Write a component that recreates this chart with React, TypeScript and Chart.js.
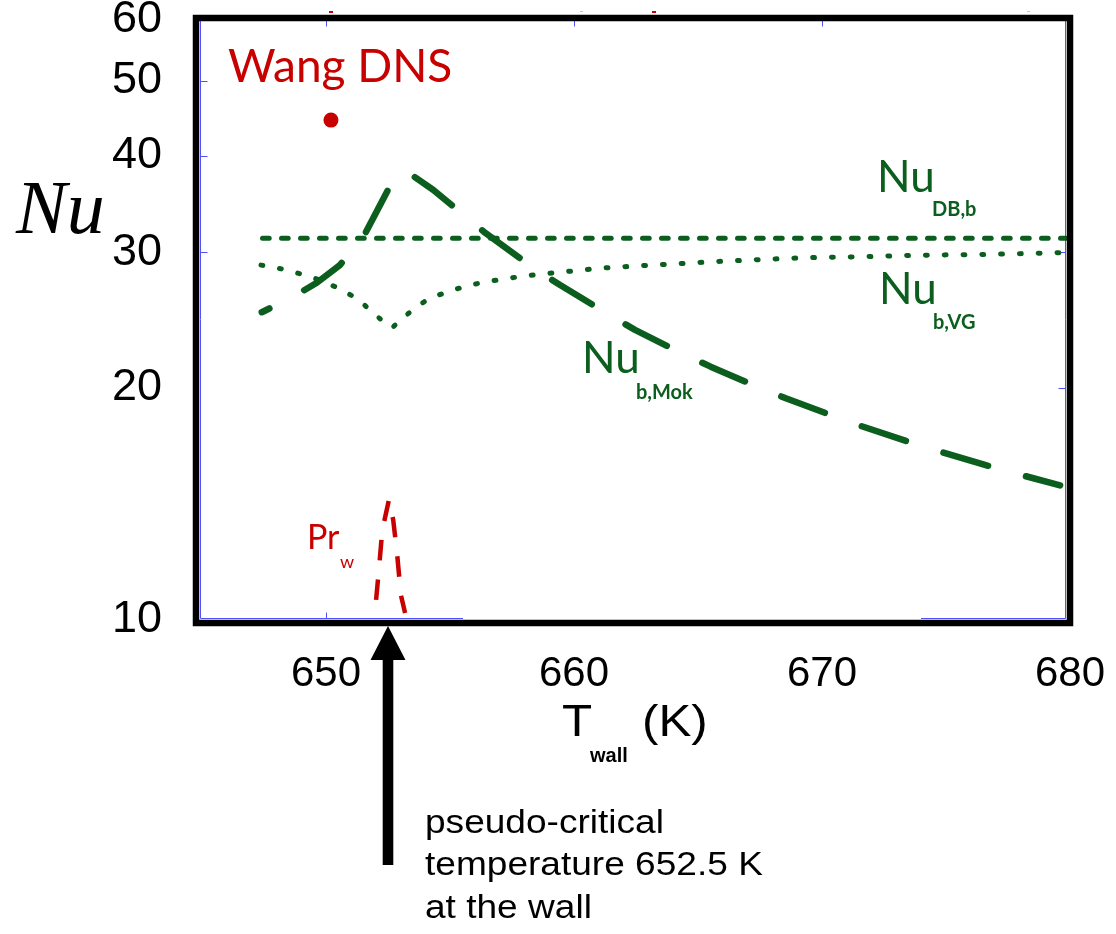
import { useEffect, useRef } from 'react';
import { Chart, registerables } from 'chart.js';

Chart.register(...registerables);

// Axis ticks
const xTicks = [650, 660, 670, 680];
const yTicks = [10, 20, 30, 40, 50, 60];

// Nu_DB,b (Dittus-Boelter, bulk properties) vs wall temperature (K)
const dbT = [647.44, 679.84];
const dbNu = [31.26, 31.26];

// Nu_b,VG
const vgT = [647.38, 648.23, 648.99, 649.76, 650.48, 651.29, 651.98, 652.66, 653.39, 654.11, 654.88, 655.65, 656.41, 657.18, 657.94, 658.71, 659.52, 660.97, 662.5, 663.99, 665.55, 667.1, 668.62, 670.12, 671.65, 673.15, 674.68, 676.21, 677.78, 679.84];
const vgNu = [28.86, 28.52, 28.1, 27.6, 26.95, 26.08, 24.87, 23.92, 25.09, 26.08, 26.63, 27.11, 27.44, 27.68, 27.93, 28.1, 28.27, 28.58, 28.78, 28.95, 29.15, 29.3, 29.45, 29.54, 29.59, 29.68, 29.75, 29.77, 29.85, 29.97];

// Nu_b,Mok
const mokT = [647.41, 648.68, 649.63, 650.56, 651.5, 652.51, 653.02, 653.46, 654.33, 655.27, 656.41, 658.29, 659.44, 661.32, 662.46, 664.34, 665.51, 667.43, 668.54, 670.46, 671.57, 673.48, 674.63, 676.57, 677.67, 679.6];
const mokNu = [25.07, 26.26, 27.38, 28.86, 31.35, 36.19, 38.22, 37.76, 36.11, 34.1, 31.79, 28.72, 27.19, 24.99, 23.78, 22.18, 21.31, 20.04, 19.39, 18.39, 17.85, 17.03, 16.58, 15.89, 15.53, 14.95];

// Wall Prandtl number
const prT = [652.02, 652.15, 652.27, 652.54, 652.71, 652.86, 653.02, 653.19];
const prVal = [10.62, 11.79, 13.08, 14.33, 13.48, 12.25, 10.77, 10.21];

// Wang DNS result
const dnsT = [650.2];
const dnsNu = [44.5];

// Pseudo-critical temperature at the wall (K)
const pseudoCriticalT = 652.5;

const GREEN = '#0b5e1e';
const RED = '#c80000';
const BLUE = '#5050ff';
const SANS = "'Liberation Sans', Arial, sans-serif";

const pts = (xs: number[], ys: number[]) => xs.map((x, i) => ({ x, y: ys[i] }));

function label(ctx: CanvasRenderingContext2D, s: string, x: number, y: number, font: string, color: string, sx = 1) {
  ctx.save();
  ctx.font = font;
  ctx.fillStyle = color;
  ctx.textAlign = 'left';
  ctx.textBaseline = 'alphabetic';
  ctx.translate(x, y);
  ctx.scale(sx, 1);
  ctx.fillText(s, 0, 0);
  ctx.restore();
}

const decorations = {
  id: 'decorations',
  beforeDatasetsDraw(chart: any) {
    const { ctx, chartArea: a, scales } = chart;
    const xs = scales.x;
    const ys = scales.y;
    const L = a.left - 1.5;
    const R = a.right - 4.5;
    const T = a.top + 0.5;
    const B = a.bottom - 1.5;
    ctx.save();
    ctx.strokeStyle = BLUE;
    ctx.lineWidth = 1;
    ctx.beginPath();
    ctx.moveTo(L, B);
    ctx.lineTo(L, T);
    ctx.lineTo(R, T);
    ctx.lineTo(R, B);
    ctx.moveTo(L, B);
    ctx.lineTo(463, B);
    ctx.moveTo(921, B);
    ctx.lineTo(R, B);
    for (const v of [30, 40, 50]) {
      const py = Math.round(ys.getPixelForValue(v)) + 0.5;
      ctx.moveTo(L, py);
      ctx.lineTo(L + 7, py);
    }
    for (const v of [20, 30]) {
      const py = Math.round(ys.getPixelForValue(v)) + 0.5;
      ctx.moveTo(R, py);
      ctx.lineTo(R - 7, py);
    }
    for (const v of [650, 660, 670]) {
      const px = Math.round(xs.getPixelForValue(v)) + 0.5;
      ctx.moveTo(px, T);
      ctx.lineTo(px, T + 6);
    }
    const p650 = Math.round(xs.getPixelForValue(650)) + 0.5;
    ctx.moveTo(p650, B);
    ctx.lineTo(p650, B - 6);
    ctx.stroke();
    ctx.restore();
  },
  afterDraw(chart: any) {
    const { ctx, chartArea: a, scales } = chart;
    const xs = scales.x;
    ctx.save();

    // plot frame
    ctx.strokeStyle = '#000';
    ctx.lineWidth = 6.5;
    ctx.lineJoin = 'miter';
    const fl = a.left - 6;
    const ft = a.top - 2;
    ctx.strokeRect(fl, ft, a.right - fl, a.bottom + 3 - ft);

    // small marks above the frame
    ctx.fillStyle = RED;
    ctx.fillRect(329, 11, 4, 2);
    ctx.fillRect(652, 11, 4, 2);
    ctx.fillStyle = '#f0b0b0';
    ctx.fillRect(580, 11, 3, 1);
    ctx.fillRect(1027, 11, 3, 1);

    // arrow pointing at the pseudo-critical temperature
    const ax = xs.getPixelForValue(pseudoCriticalT);
    const tipY = a.bottom + 6;
    ctx.fillStyle = '#000';
    ctx.beginPath();
    ctx.moveTo(ax, tipY);
    ctx.lineTo(ax + 17.5, tipY + 34);
    ctx.lineTo(ax + 5.3, tipY + 34);
    ctx.lineTo(ax + 5.3, 865);
    ctx.lineTo(ax - 5.3, 865);
    ctx.lineTo(ax - 5.3, tipY + 34);
    ctx.lineTo(ax - 17.5, tipY + 34);
    ctx.closePath();
    ctx.fill();

    // axis titles
    label(ctx, 'Nu', 16, 233, "italic 76px 'Liberation Serif', 'Times New Roman', serif", '#000');
    label(ctx, 'T', 562, 736, `44px ${SANS}`, '#000', 1.12);
    label(ctx, 'wall', 590, 762, `bold 20px ${SANS}`, '#000');
    label(ctx, '(K)', 642, 736, `44px ${SANS}`, '#000', 1.12);

    // series labels
    label(ctx, 'Wang DNS', 228, 82, '46px Lato, sans-serif', RED);
    label(ctx, 'Nu', 877, 192, '44px Lato, sans-serif', GREEN);
    label(ctx, 'DB,b', 932, 216, 'bold 20px Lato, sans-serif', GREEN);
    label(ctx, 'Nu', 879, 304, '44px Lato, sans-serif', GREEN);
    label(ctx, 'b,VG', 933, 329, 'bold 20px Lato, sans-serif', GREEN);
    label(ctx, 'Nu', 582, 373, '44px Lato, sans-serif', GREEN);
    label(ctx, 'b,Mok', 636, 399, 'bold 20px Lato, sans-serif', GREEN);
    label(ctx, 'Pr', 307, 549, '34px Lato, sans-serif', RED);
    label(ctx, 'w', 340, 568, '18px Lato, sans-serif', RED);

    // annotation
    const note = ['pseudo-critical', `temperature ${pseudoCriticalT} K`, 'at the wall'];
    const baselines = [833, 875, 918];
    note.forEach((s, i) => label(ctx, s, 425, baselines[i], `34px ${SANS}`, '#000', 1.09));

    ctx.restore();
  },
};

export default function App() {
  const ref = useRef<HTMLCanvasElement>(null);

  useEffect(() => {
    const zeroPad = (s: any) => {
      s.paddingLeft = 0;
      s.paddingRight = 0;
      s.paddingTop = 0;
      s.paddingBottom = 0;
    };
    const lineBase = {
      showLine: true,
      pointRadius: 0,
      pointHoverRadius: 0,
      borderJoinStyle: 'round' as const,
      tension: 0,
    };
    const chart = new Chart(ref.current!, {
      type: 'scatter',
      data: {
        datasets: [
          {
            ...lineBase,
            label: 'Nu_DB,b',
            data: pts(dbT, dbNu),
            borderColor: GREEN,
            borderWidth: 5,
            borderDash: [6.7, 12.3],
            borderCapStyle: 'round',
          },
          {
            ...lineBase,
            label: 'Nu_b,VG',
            data: pts(vgT, vgNu),
            borderColor: GREEN,
            borderWidth: 5,
            borderDash: [1.8, 17],
            borderCapStyle: 'round',
          },
          {
            ...lineBase,
            label: 'Nu_b,Mok',
            data: pts(mokT, mokNu),
            borderColor: GREEN,
            borderWidth: 6.5,
            borderDash: [46.5, 39.34],
            borderDashOffset: 38,
            borderCapStyle: 'round',
          },
          {
            ...lineBase,
            label: 'Pr_w',
            data: pts(prT, prVal),
            borderColor: RED,
            borderWidth: 4.5,
            borderDash: [20.5, 19.2],
            borderCapStyle: 'butt',
          },
          {
            label: 'Wang DNS',
            data: pts(dnsT, dnsNu),
            pointRadius: 7.5,
            pointHoverRadius: 7.5,
            backgroundColor: RED,
            borderWidth: 0,
          },
        ] as any,
      },
      options: {
        animation: false,
        responsive: false,
        events: [],
        layout: { padding: { left: 0, top: 20, right: 46, bottom: 0 } },
        plugins: {
          legend: { display: false },
          tooltip: { enabled: false },
        },
        scales: {
          x: {
            type: 'linear',
            min: 645,
            max: 680,
            grid: { display: false },
            border: { display: false },
            afterBuildTicks: (s: any) => {
              s.ticks = xTicks.map((v) => ({ value: v }));
            },
            afterFit: (s: any) => {
              s.height = 314;
              zeroPad(s);
            },
            ticks: {
              color: '#000',
              font: { family: SANS, size: 42 },
              padding: 21,
              maxRotation: 0,
              autoSkip: false,
              callback: (v: any) => String(v),
            },
          },
          y: {
            type: 'logarithmic',
            min: 10,
            max: 60,
            grid: { display: false },
            border: { display: false },
            afterBuildTicks: (s: any) => {
              s.ticks = yTicks.map((v) => ({ value: v }));
            },
            afterFit: (s: any) => {
              s.width = 202;
              zeroPad(s);
            },
            ticks: {
              color: '#000',
              font: { family: SANS, size: 45 },
              padding: 32,
              autoSkip: false,
              callback: (v: any) => String(v),
            },
          },
        },
      },
      plugins: [decorations],
    });
    return () => chart.destroy();
  }, []);

  return (
    <div style={{ position: 'absolute', left: 0, top: 0, width: 1116, height: 934, background: '#fff' }}>
      <canvas ref={ref} width={1116} height={934} style={{ display: 'block' }} />
    </div>
  );
}
